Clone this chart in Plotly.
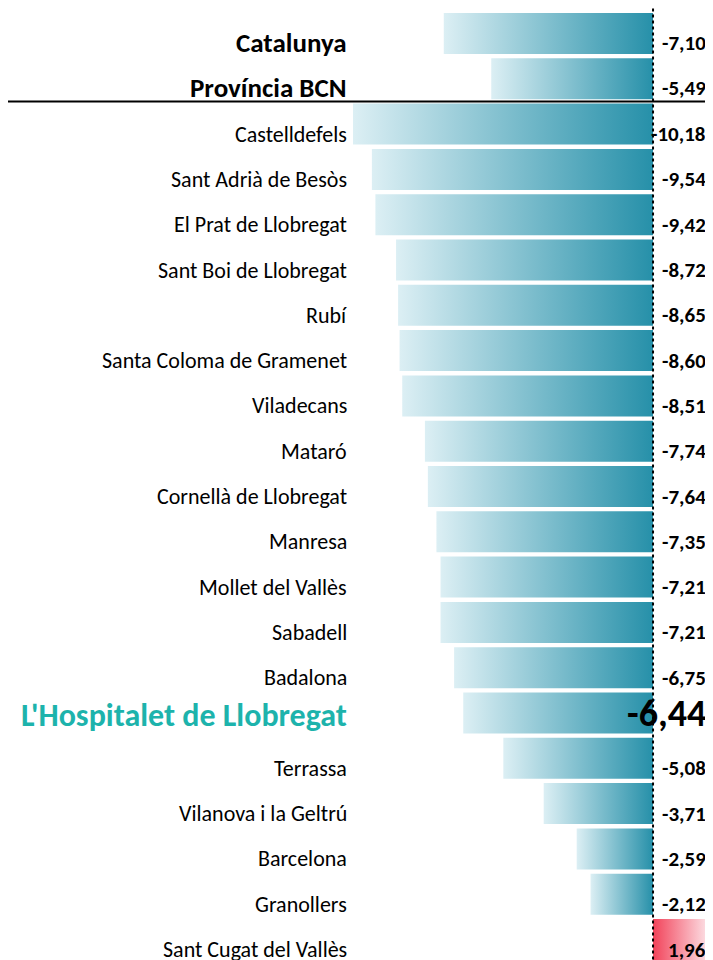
import plotly.graph_objects as go

categories = ["Catalunya", "Província BCN", "Castelldefels", "Sant Adrià de Besòs",
              "El Prat de Llobregat", "Sant Boi de Llobregat", "Rubí",
              "Santa Coloma de Gramenet", "Viladecans", "Mataró", "Cornellà de Llobregat",
              "Manresa", "Mollet del Vallès", "Sabadell", "Badalona",
              "L'Hospitalet de Llobregat", "Terrassa", "Vilanova i la Geltrú",
              "Barcelona", "Granollers", "Sant Cugat del Vallès"]
values = [-7.10, -5.49, -10.18, -9.54, -9.42, -8.72, -8.65, -8.60, -8.51, -7.74,
          -7.64, -7.35, -7.21, -7.21, -6.75, -6.44, -5.08, -3.71, -2.59, -2.12, 1.96]
aggregates = ["Catalunya", "Província BCN"]
highlight = "L'Hospitalet de Llobregat"

FONT = "Carlito, Lato, 'Liberation Sans', sans-serif"
NEG_SCALE = [[0, "#dceff4"], [1, "#2690a9"]]
POS_SCALE = [[0, "#f2435a"], [1, "#fde9ed"]]
H = 0.4525
W, HT = 705, 952

fig = go.Figure()
for i, (cat, v) in enumerate(zip(categories, values)):
    fig.add_trace(go.Scatter(
        x=[v, 0, 0, v, v], y=[i - H, i - H, i + H, i + H, i - H],
        mode="lines", line=dict(width=0), fill="toself",
        fillgradient=dict(type="horizontal", colorscale=NEG_SCALE if v < 0 else POS_SCALE),
        hoverinfo="skip", showlegend=False))

annotations = []
for i, (cat, v) in enumerate(zip(categories, values)):
    label = f"{v:.2f}".replace(".", ",")
    vx = 699.5 / W
    if cat in aggregates:
        cfont = dict(family=FONT, size=27, color="#000000", weight="bold")
        vfont = dict(family=FONT, size=21, color="#000000", weight="bold")
        ysh = -9
    elif cat == highlight:
        cfont = dict(family=FONT, size=32, color="#1db3ac", weight="bold")
        vfont = dict(family=FONT, size=38, color="#000000", weight="bold")
        ysh = -2
    else:
        cfont = dict(family=FONT, size=22, color="#000000")
        vfont = dict(family=FONT, size=21, color="#000000", weight="bold")
        ysh = -10
    annotations.append(dict(x=341 / W, xref="paper", xanchor="right", y=i, yref="y",
                            yanchor="middle", yshift=ysh, text=cat, showarrow=False, font=cfont))
    annotations.append(dict(x=vx, xref="paper", xanchor="right", y=i, yref="y",
                            yanchor="middle", yshift=ysh if cat != highlight else 0,
                            text=label, showarrow=False, font=vfont))

shapes = [
    dict(type="line", xref="x", yref="y", x0=0, x1=0, y0=-0.55, y1=20.6,
         line=dict(color="#000000", width=2, dash="dot")),
    dict(type="line", xref="paper", yref="y", x0=0, x1=1, y0=1.5, y1=1.5,
         line=dict(color="#000000", width=2)),
]

fig.update_layout(
    width=W, height=HT,
    margin=dict(l=0, r=0, t=0, b=0),
    paper_bgcolor="white", plot_bgcolor="white",
    xaxis=dict(range=[-21.887, 2.035], visible=False, fixedrange=True),
    yaxis=dict(range=[20.452, -0.563], visible=False, fixedrange=True),
    annotations=annotations, shapes=shapes,
    showlegend=False,
)

fig.write_html("out.html")
